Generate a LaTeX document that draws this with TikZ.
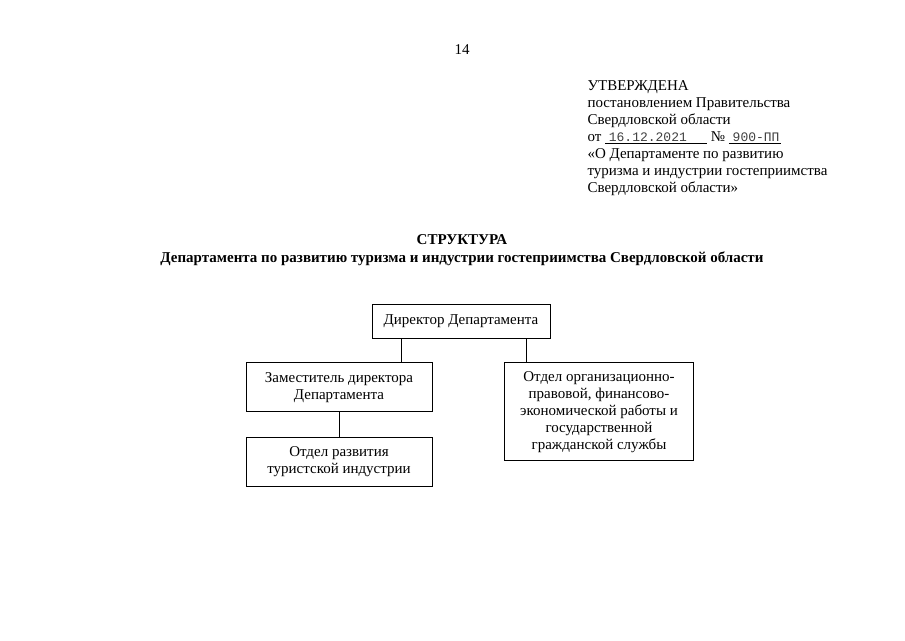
\documentclass[tikz,border=0pt]{standalone}
\usepackage{fontspec}
\setmainfont{Liberation Serif}
\setmonofont{Liberation Mono}
\usetikzlibrary{positioning,calc}
\tikzset{
  blk/.style={draw,rectangle,line width=0.8pt,align=center,inner sep=2pt,font=\fontsize{15}{17}\selectfont},
  hdr/.style={anchor=west,align=left,font=\fontsize{15}{17}\selectfont},
  ttl/.style={font=\fontsize{15}{18}\selectfont\bfseries,align=center},
  conn/.style={line width=0.8pt}
}

\begin{document}
\begin{tikzpicture}[x=1pt,y=-1pt,node distance=24pt]
  \useasboundingbox (0,0) rectangle (905,640);
  \node[font=\fontsize{15}{17}\selectfont] (pg) at (462,50) {14};
  \node[hdr,anchor=north west] (appr) at (584,77) {УТВЕРЖДЕНА\\
    постановлением Правительства\\
    Свердловской области\\
    от \underline{\makebox[102pt][l]{\ \color{black!75}\ttfamily\fontsize{13}{17}\selectfont 16.12.2021}}~№ \underline{\makebox[52pt][l]{\ \color{black!75}\ttfamily\fontsize{13}{17}\selectfont 900-ПП}}\\
    «О Департаменте по развитию\\
    туризма и индустрии гостеприимства\\
    Свердловской области»};
  \node[ttl] (title) at (462,240) {СТРУКТУРА};
  \node[ttl,below=0pt of title] (subt) {Департамента по развитию туризма и индустрии гостеприимства Свердловской области};

  % org chart
  \node[blk,minimum width=178pt,minimum height=34pt] (dir) at (461,321) {Директор Департамента};
  \node[blk,minimum width=186pt,minimum height=49pt,below=24pt of dir,xshift=-122pt] (dep) {Заместитель директора\\Департамента};
  \node[blk,minimum width=186pt,minimum height=49pt,below=25pt of dep] (tour) {Отдел развития\\туристской индустрии};
  \node[blk,minimum width=189pt,minimum height=98pt,below=24pt of dir,xshift=138pt] (org) {Отдел организационно-\\правовой, финансово-\\экономической работы и\\государственной\\гражданской службы};

  \draw[conn] ([xshift=30pt]dir.south west) -- ([xshift=30pt]dir.south west |- dep.north);
  \draw[conn] ([xshift=-24pt]dir.south east) -- ([xshift=-24pt]dir.south east |- org.north);
  \draw[conn] (dep.south) -- (tour.north);
\end{tikzpicture}
\end{document}
